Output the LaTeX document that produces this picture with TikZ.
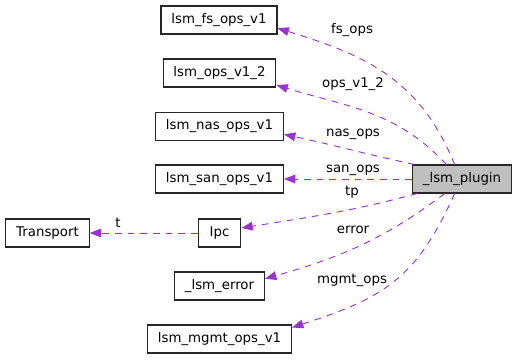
\documentclass[tikz,border=0pt]{standalone}
\usepackage{fontspec}
\setmainfont{DejaVu Sans}
\usetikzlibrary{arrows.meta}

\definecolor{edgecol}{HTML}{9A32CD}
\definecolor{rootfill}{HTML}{BFBFBF}

\tikzset{
  cls/.style={draw=black!85,line width=0.8pt,fill=white,minimum height=21pt,inner xsep=7.8pt,inner ysep=0pt},
  root/.style={cls,fill=rootfill},
  member/.style={draw=edgecol,line width=0.7pt,dash pattern=on 5pt off 4.5pt,
    -{Triangle[length=8.5pt,width=6.5pt,fill=edgecol]}},
  lbl/.style={inner sep=1pt}
}

\begin{document}
\begin{tikzpicture}[x=0.75pt,y=0.75pt]
\useasboundingbox (0,0) rectangle (517,-360);

\node[root] (plugin) at (462,-179) {\_lsm\_plugin};

\node[cls] (fs) at (219,-20) {lsm\_fs\_ops\_v1};
\node[cls] (ops) at (219.5,-73) {lsm\_ops\_v1\_2};
\node[cls] (nas) at (219.5,-126.5) {lsm\_nas\_ops\_v1};
\node[cls] (san) at (219.5,-179) {lsm\_san\_ops\_v1};
\node[cls,minimum width=32pt] (ipc) at (219.5,-233) {Ipc};
\node[cls] (transport) at (47.5,-233) {Transport};
\node[cls] (err) at (219.5,-286) {\_lsm\_error};
\node[cls] (mgmt) at (219.5,-339) {lsm\_mgmt\_ops\_v1};

% members of _lsm_plugin
\draw[member] (plugin.117) to[out=112,in=-17,looseness=1.05] (fs.-8);
\draw[member] (plugin.137) to[out=133,in=-17] (ops.-12);
\draw[member] (plugin.163) to[out=168,in=-12] (nas.-7);
\draw[member] (plugin.west) -- (san.east);
\draw[member] (plugin.198) to[out=195,in=9] (ipc.13);
\draw[member] (plugin.220) to[out=217,in=16] (err.9);
\draw[member] (plugin.243) to[out=246,in=18,looseness=1.15] (mgmt.9);
\draw[member] (ipc.west) -- (transport.east);

\node[lbl] (lfs) at (352,-30) {fs\_ops};
\node[lbl] (lops) at (353,-84) {ops\_v1\_2};
\node[lbl] (lnas) at (353,-134) {nas\_ops};
\node[lbl] (lsan) at (353,-170) {san\_ops};
\node[lbl] (ltp) at (352,-192) {tp};
\node[lbl] (lerr) at (353,-230) {error};
\node[lbl] (lmgmt) at (352,-280) {mgmt\_ops};
\node[lbl] (lt) at (118,-223) {t};
\end{tikzpicture}
\end{document}
